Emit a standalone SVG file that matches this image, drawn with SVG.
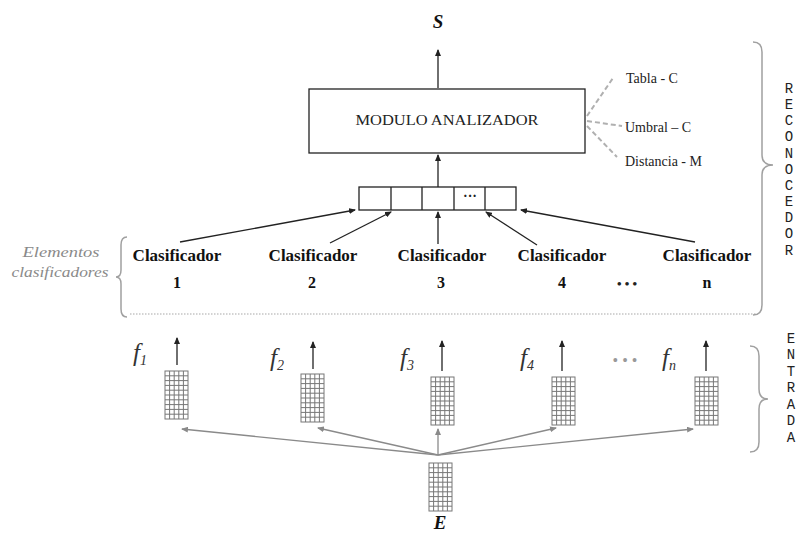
<svg xmlns="http://www.w3.org/2000/svg" width="799" height="536" viewBox="0 0 799 536">
<style>
.serif{font-family:"Liberation Serif","Times New Roman",serif;}
.cls{font-family:"Liberation Serif",serif;font-weight:bold;font-size:17px;fill:#111;text-anchor:middle;}
.num{font-family:"Liberation Serif",serif;font-weight:bold;font-size:16px;fill:#111;text-anchor:middle;}
.side{font-family:"Liberation Serif",serif;font-size:14px;fill:#222;}
.mono{font-family:"Liberation Mono","Courier New",monospace;font-size:14px;fill:#222;text-anchor:middle;}
.flab{font-family:"Liberation Serif",serif;font-style:italic;font-size:25px;fill:#333;}
.sub{font-size:14px;}
.blk{stroke:#222;stroke-width:1.3;fill:none;}
.gry{stroke:#8a8a8a;stroke-width:1.3;fill:none;}
.dash{stroke:#b0b0b0;stroke-width:2;stroke-dasharray:5,3;fill:none;}
.brace{stroke:#a0a0a0;stroke-width:1.5;fill:none;}
.box{fill:#fff;stroke:#222;stroke-width:1.3;}
.gridl{stroke:#777;stroke-width:1;fill:#fff;}
</style>
<defs>
<marker id="ah" markerWidth="7" markerHeight="6" refX="6" refY="3" orient="auto" markerUnits="userSpaceOnUse"><path d="M0,0 L7,3 L0,6 z" fill="#222"/></marker>
<marker id="ahg" markerWidth="7" markerHeight="6" refX="6" refY="3" orient="auto" markerUnits="userSpaceOnUse"><path d="M0,0 L7,3 L0,6 z" fill="#8a8a8a"/></marker>
<g id="grid">
<rect x="0" y="0" width="23" height="48" class="gridl"/>
<path class="gridl" d="M4.6,0V48M9.2,0V48M13.8,0V48M18.4,0V48M0,4.8H23M0,9.6H23M0,14.4H23M0,19.2H23M0,24H23M0,28.8H23M0,33.6H23M0,38.4H23M0,43.2H23"/>
</g>
</defs>
<rect width="799" height="536" fill="#fff"/>

<g id="connectors">
<line class="blk" x1="438" y1="88" x2="438" y2="50" marker-end="url(#ah)"/>
<line class="blk" x1="438" y1="187" x2="438" y2="155" marker-end="url(#ah)"/>
<line class="blk" x1="180" y1="242" x2="355" y2="210" marker-end="url(#ah)"/>
<line class="blk" x1="330" y1="243" x2="391" y2="212" marker-end="url(#ah)"/>
<line class="blk" x1="438" y1="244" x2="438" y2="212" marker-end="url(#ah)"/>
<line class="blk" x1="537" y1="245" x2="486" y2="212" marker-end="url(#ah)"/>
<line class="blk" x1="695" y1="242" x2="521" y2="210" marker-end="url(#ah)"/>
<line class="dash" x1="587" y1="116" x2="613" y2="78"/>
<line class="dash" x1="587" y1="121" x2="622" y2="126"/>
<line class="dash" x1="587" y1="126" x2="617" y2="157"/>
<line class="blk" x1="177" y1="365" x2="177" y2="338" marker-end="url(#ah)"/>
<line class="blk" x1="313" y1="369" x2="313" y2="342" marker-end="url(#ah)"/>
<line class="blk" x1="442" y1="371" x2="442" y2="341" marker-end="url(#ah)"/>
<line class="blk" x1="562" y1="371" x2="562" y2="341" marker-end="url(#ah)"/>
<line class="blk" x1="706" y1="371" x2="706" y2="341" marker-end="url(#ah)"/>
<line class="gry" x1="438" y1="455" x2="182" y2="429" marker-end="url(#ahg)"/>
<line class="gry" x1="438" y1="455" x2="318" y2="428" marker-end="url(#ahg)"/>
<line class="gry" x1="438" y1="455" x2="438" y2="429" marker-end="url(#ahg)"/>
<line class="gry" x1="438" y1="455" x2="556" y2="428" marker-end="url(#ahg)"/>
<line class="gry" x1="438" y1="455" x2="693" y2="429" marker-end="url(#ahg)"/>
</g>

<g id="S"><text x="438" y="28" class="serif" font-size="19" font-weight="bold" font-style="italic" text-anchor="middle" fill="#111">S</text></g>

<g id="modulo">
<rect x="309" y="89" width="276" height="64" class="box"/>
<text x="447" y="125" class="serif" font-size="15.5" text-anchor="middle" fill="#222" textLength="183" lengthAdjust="spacingAndGlyphs">MODULO ANALIZADOR</text>
</g>

<g id="params">
<text x="626" y="83" class="side">Tabla - C</text>
<text x="625" y="132" class="side">Umbral – C</text>
<text x="625" y="166" class="side">Distancia - M</text>
</g>

<g id="vector">
<rect x="359" y="187" width="157" height="23" class="box"/>
<path class="blk" d="M391,187V210M422,187V210M454,187V210M485,187V210"/>
<text x="470" y="201" class="serif" font-size="14" font-weight="bold" text-anchor="middle" fill="#222">···</text>
</g>

<g id="clasificador1"><text x="177" y="261" class="cls">Clasificador</text><text x="177" y="288" class="num">1</text></g>
<g id="clasificador2"><text x="313" y="261" class="cls">Clasificador</text><text x="312" y="288" class="num">2</text></g>
<g id="clasificador3"><text x="442" y="261" class="cls">Clasificador</text><text x="441" y="288" class="num">3</text></g>
<g id="clasificador4"><text x="562" y="261" class="cls">Clasificador</text><text x="562" y="288" class="num">4</text></g>
<g id="clasificadorn"><text x="707" y="261" class="cls">Clasificador</text><text x="707" y="288" class="num">n</text></g>
<g id="dots-clas"><text x="627" y="288" class="serif" font-size="13" font-weight="bold" text-anchor="middle" fill="#222">• • •</text></g>

<g id="elementos">
<text x="61" y="257" class="serif" font-style="italic" font-size="15" fill="#8a8a8a" text-anchor="middle" textLength="77" lengthAdjust="spacingAndGlyphs">Elementos</text>
<text x="60" y="277" class="serif" font-style="italic" font-size="15" fill="#8a8a8a" text-anchor="middle" textLength="97" lengthAdjust="spacingAndGlyphs">clasificadores</text>
<path class="brace" d="M127,237 Q121,237 121,245 L121,270 Q121,277 116,277 Q121,277 121,284 L121,309 Q121,317 127,317"/>
</g>

<g id="separador"><line x1="130" y1="314" x2="757" y2="314" stroke="#a8a8a8" stroke-width="1.2" stroke-dasharray="1.5,1.5"/></g>

<g id="reconocedor">
<path class="brace" d="M753,42 Q762,42 762,52 L762,155 Q762,165 773,165 Q762,165 762,175 L762,305 Q762,315 753,315"/>
<text class="mono"><tspan x="789" y="93">R</tspan><tspan x="789" y="109">E</tspan><tspan x="789" y="125">C</tspan><tspan x="789" y="141">O</tspan><tspan x="789" y="158">N</tspan><tspan x="789" y="174">O</tspan><tspan x="789" y="190">C</tspan><tspan x="789" y="206">E</tspan><tspan x="789" y="222">D</tspan><tspan x="789" y="238">O</tspan><tspan x="789" y="255">R</tspan></text>
</g>

<g id="entrada">
<path class="brace" d="M750,346 Q759,346 759,356 L759,389 Q759,399 768,399 Q759,399 759,409 L759,442 Q759,452 750,452"/>
<text class="mono"><tspan x="791" y="343">E</tspan><tspan x="791" y="359">N</tspan><tspan x="791" y="376">T</tspan><tspan x="791" y="392">R</tspan><tspan x="791" y="409">A</tspan><tspan x="791" y="425">D</tspan><tspan x="791" y="442">A</tspan></text>
</g>

<g id="f1"><text x="133" y="361" class="flab">f<tspan class="sub" dy="4">1</tspan></text><use href="#grid" x="165" y="371"/></g>
<g id="f2"><text x="270" y="366" class="flab">f<tspan class="sub" dy="4">2</tspan></text><use href="#grid" x="301" y="374"/></g>
<g id="f3"><text x="400" y="366" class="flab">f<tspan class="sub" dy="4">3</tspan></text><use href="#grid" x="431" y="377"/></g>
<g id="f4"><text x="520" y="366" class="flab">f<tspan class="sub" dy="4">4</tspan></text><use href="#grid" x="552" y="377"/></g>
<g id="fn"><text x="662" y="366" class="flab">f<tspan class="sub" dy="4">n</tspan></text><use href="#grid" x="695" y="377"/></g>
<g id="dots-f"><text x="625" y="366" class="serif" font-size="16" text-anchor="middle" fill="#999">• • •</text></g>

<g id="E">
<use href="#grid" x="429" y="463"/>
<text x="440" y="529" class="serif" font-size="19" font-weight="bold" font-style="italic" text-anchor="middle" fill="#111">E</text>
</g>
</svg>
